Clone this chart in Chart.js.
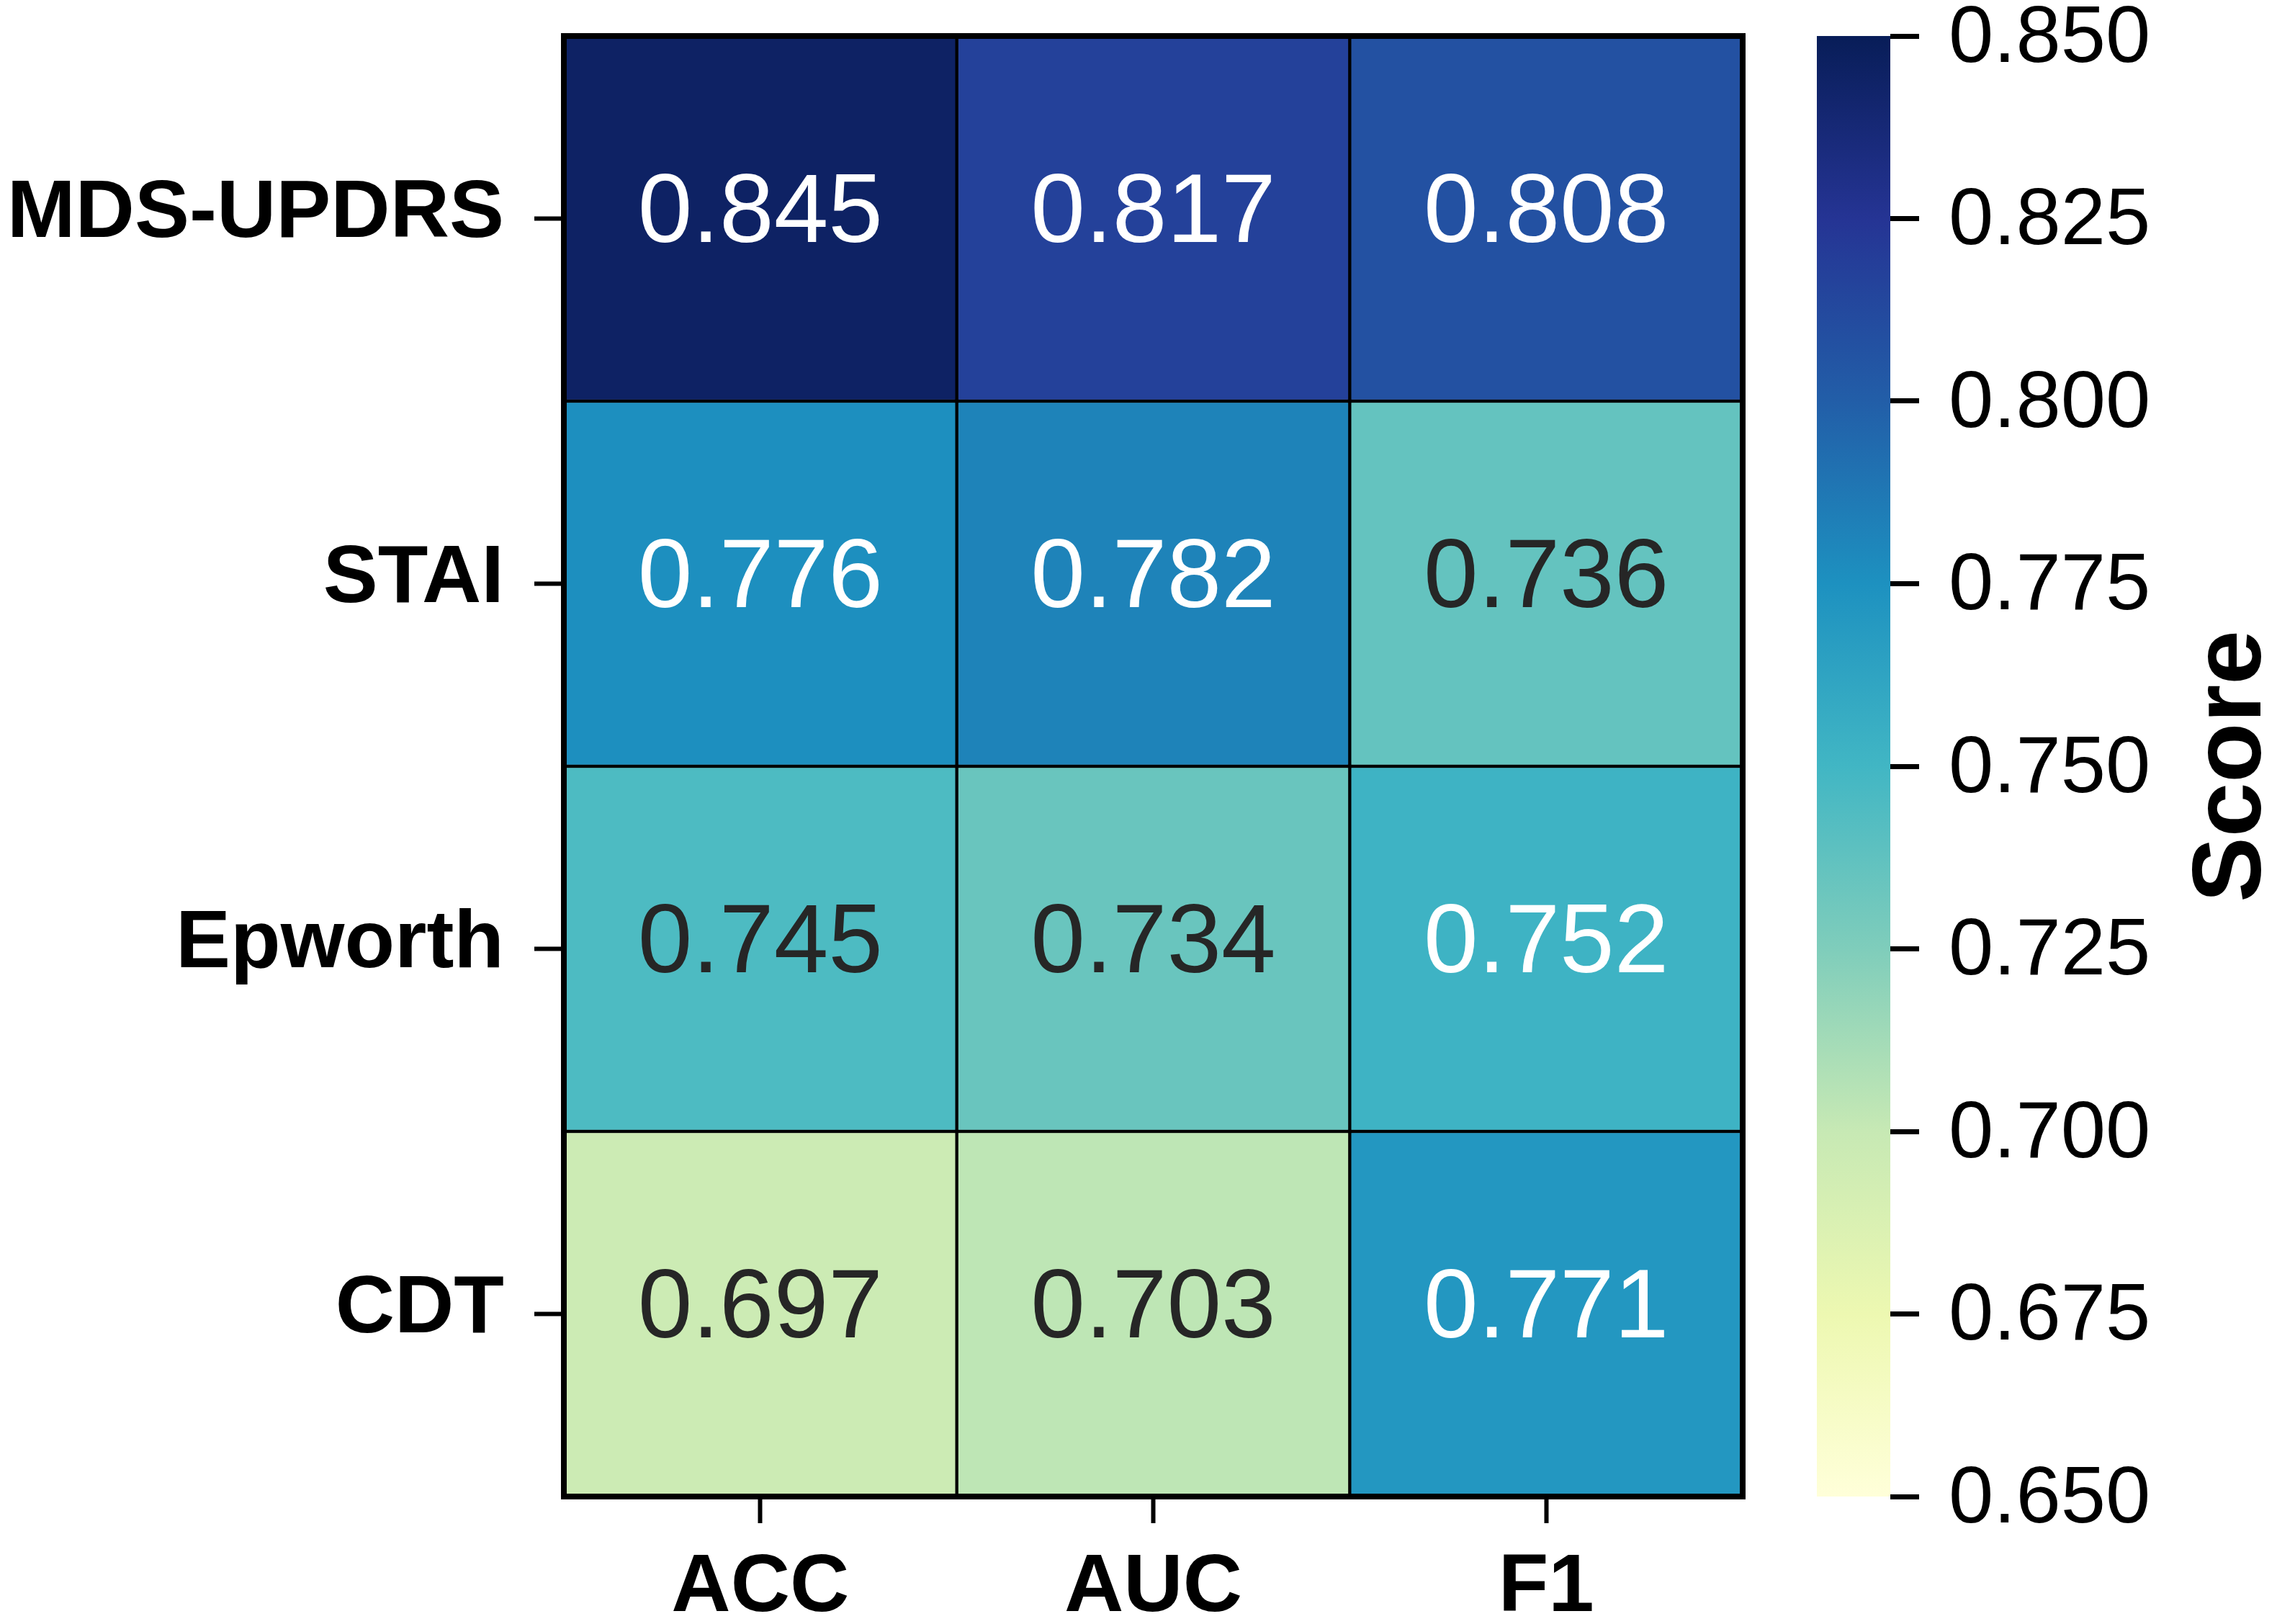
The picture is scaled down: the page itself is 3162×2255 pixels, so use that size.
<!DOCTYPE html>
<html>
<head>
<meta charset="utf-8">
<script src="https://cdn.jsdelivr.net/npm/chart.js@4.4.1/dist/chart.umd.min.js"></script>
<style>
  html, body { margin: 0; padding: 0; background: #fff; }
  body { width: 3162px; height: 2255px; position: relative; overflow: hidden; }
  #heat-wrap { position: absolute; left: 0; top: 0; width: 2440px; height: 2255px; }
  #bar-wrap { position: absolute; left: 2430px; top: 0; width: 732px; height: 2255px; }
</style>
</head>
<body>
<div id="heat-wrap"><canvas id="heat"></canvas></div>
<div id="bar-wrap"><canvas id="cbar"></canvas></div>
<script>
// data
const metrics = ['ACC', 'AUC', 'F1'];
const tests = ['MDS-UPDRS', 'STAI', 'Epworth', 'CDT'];
const mdsUpdrsScores = [0.845, 0.817, 0.808];
const staiScores = [0.776, 0.782, 0.736];
const epworthScores = [0.745, 0.734, 0.752];
const cdtScores = [0.697, 0.703, 0.771];
const scoreMin = 0.65;
const scoreMax = 0.85;
const colorbarTicks = [0.650, 0.675, 0.700, 0.725, 0.750, 0.775, 0.800, 0.825, 0.850];

// YlGnBu colormap stops
const ylgnbu = ['#ffffd9', '#edf8b1', '#c7e9b4', '#7fcdbb', '#41b6c4', '#1d91c0', '#225ea8', '#253494', '#081d58'];

const FONT = '"Liberation Sans", Arial, Helvetica, sans-serif';
Chart.defaults.font.family = FONT;
Chart.defaults.color = '#000';

function hexToRgb(h) {
  return [1, 3, 5].map(i => parseInt(h.slice(i, i + 2), 16));
}

function rgbFor(v) {
  let t = (v - scoreMin) / (scoreMax - scoreMin);
  t = Math.min(1, Math.max(0, t)) * (ylgnbu.length - 1);
  const i = Math.min(ylgnbu.length - 2, Math.floor(t));
  const f = t - i;
  const a = hexToRgb(ylgnbu[i]), b = hexToRgb(ylgnbu[i + 1]);
  return a.map((c, k) => c + (b[k] - c) * f);
}

function colorFor(v) {
  const c = rgbFor(v).map(Math.round);
  return `rgb(${c[0]}, ${c[1]}, ${c[2]})`;
}

// same rule seaborn uses to pick the annotation colour
function textColorFor(v) {
  const lin = rgbFor(v).map(c => {
    c = c / 255;
    return c <= 0.03928 ? c / 12.92 : Math.pow((c + 0.055) / 1.055, 2.4);
  });
  const lum = 0.2126 * lin[0] + 0.7152 * lin[1] + 0.0722 * lin[2];
  return lum > 0.408 ? '#262626' : '#ffffff';
}

const rows = [mdsUpdrsScores, staiScores, epworthScores, cdtScores];

const cellLabels = {
  id: 'cellLabels',
  afterDatasetsDraw(chart) {
    const ctx = chart.ctx;
    ctx.save();
    ctx.font = `136px ${FONT}`;
    ctx.textAlign = 'center';
    ctx.textBaseline = 'middle';
    chart.data.datasets.forEach((ds, i) => {
      chart.getDatasetMeta(i).data.forEach((bar, j) => {
        const s = ds.data[j].score;
        const p = bar.getCenterPoint();
        ctx.fillStyle = textColorFor(s);
        ctx.fillText(s.toFixed(3), p.x, p.y - 5);
      });
    });
    const a = chart.chartArea;
    ctx.lineWidth = 8;
    ctx.strokeStyle = '#000';
    ctx.strokeRect(a.left, a.top, a.right - a.left, a.bottom - a.top);
    ctx.restore();
  }
};

new Chart(document.getElementById('heat'), {
  type: 'bar',
  data: {
    labels: metrics,
    datasets: rows.map((scores, r) => ({
      label: tests[r],
      data: scores.map((s, c) => ({ x: metrics[c], y: [r, r + 1], score: s })),
      backgroundColor: scores.map(colorFor),
      borderColor: '#000',
      borderWidth: 2.5,
      borderSkipped: false,
      barPercentage: 1,
      categoryPercentage: 1,
      grouped: false
    }))
  },
  options: {
    responsive: true,
    maintainAspectRatio: false,
    animation: false,
    layout: { padding: { top: 50, right: 20, left: 0, bottom: 0 } },
    plugins: { legend: { display: false }, tooltip: { enabled: false } },
    scales: {
      x: {
        grid: { offset: false, drawOnChartArea: false, tickLength: 37, tickWidth: 6, tickColor: '#000' },
        border: { display: false },
        ticks: { font: { size: 114, weight: 'bold' }, color: '#000', padding: 22, maxRotation: 0 },
        afterFit: axis => { axis.height = 177; }
      },
      y: {
        min: 0,
        max: 4,
        reverse: true,
        afterBuildTicks: axis => { axis.ticks = tests.map((_, i) => ({ value: i + 0.5 })); },
        afterFit: axis => { axis.width = 783; axis.paddingTop = 0; axis.paddingBottom = 0; },
        grid: { drawOnChartArea: false, tickLength: 41, tickWidth: 6, tickColor: '#000' },
        border: { display: false },
        ticks: {
          callback: v => tests[Math.floor(v)],
          font: { size: 114, weight: 'bold' },
          color: '#000',
          padding: 42,
          labelOffset: -6
        }
      }
    }
  },
  plugins: [cellLabels]
});

const scoreTitle = {
  id: 'scoreTitle',
  afterDraw(chart) {
    const a = chart.chartArea;
    const ctx = chart.ctx;
    ctx.save();
    ctx.translate(671, (a.top + a.bottom) / 2);
    ctx.rotate(-Math.PI / 2);
    ctx.font = `bold 136px ${FONT}`;
    ctx.fillStyle = '#000';
    ctx.textAlign = 'center';
    ctx.textBaseline = 'middle';
    ctx.fillText('Score', 0, 0);
    ctx.restore();
  }
};

new Chart(document.getElementById('cbar'), {
  type: 'bar',
  data: {
    labels: ['Score'],
    datasets: [{
      data: [[scoreMin, scoreMax]],
      backgroundColor: c => {
        const a = c.chart.chartArea;
        if (!a) return null;
        const g = c.chart.ctx.createLinearGradient(0, a.bottom, 0, a.top);
        ylgnbu.forEach((col, i) => g.addColorStop(i / (ylgnbu.length - 1), col));
        return g;
      },
      borderWidth: 0,
      barPercentage: 1,
      categoryPercentage: 1
    }]
  },
  options: {
    responsive: true,
    maintainAspectRatio: false,
    animation: false,
    layout: { padding: { left: 93, top: 50, bottom: 177, right: 0 } },
    plugins: { legend: { display: false }, tooltip: { enabled: false } },
    scales: {
      x: { display: false },
      y: {
        position: 'right',
        min: scoreMin,
        max: scoreMax,
        afterBuildTicks: axis => { axis.ticks = colorbarTicks.map(v => ({ value: v })); },
        afterFit: axis => { axis.width = 537; axis.paddingTop = 0; axis.paddingBottom = 0; },
        grid: { drawOnChartArea: false, tickLength: 40, tickWidth: 7, tickColor: '#000' },
        border: { display: false },
        ticks: {
          callback: v => v.toFixed(3),
          font: { size: 112 },
          color: '#000',
          padding: 41,
          labelOffset: 5
        }
      }
    }
  },
  plugins: [scoreTitle]
});
</script>
</body>
</html>
